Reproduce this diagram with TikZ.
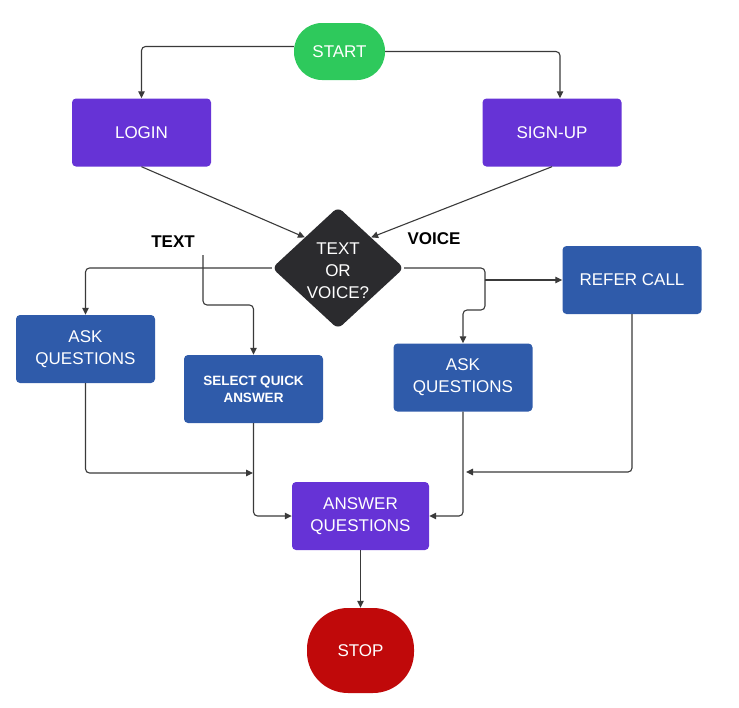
\documentclass[tikz,border=0pt]{standalone}
\usepackage{fontspec}
\setmainfont{Liberation Sans}
\usetikzlibrary{shapes.geometric,arrows.meta}
\definecolor{cpurple}{HTML}{6633D6}
\definecolor{cblue}{HTML}{2F5BAA}
\definecolor{cgreen}{HTML}{2EC95C}
\definecolor{cred}{HTML}{C0090A}
\definecolor{cdark}{HTML}{2B2B2E}
\definecolor{cline}{HTML}{3A3A3A}
\begin{document}
\begin{tikzpicture}[x=1pt,y=-1pt,
  box/.style={rectangle,rounded corners=4pt,minimum width=139pt,minimum height=68pt,
    text=white,font=\fontsize{17}{22}\selectfont,align=center,inner sep=0pt},
  pbox/.style={box,fill=cpurple},
  bbox/.style={box,fill=cblue},
  term/.style={rectangle,text=white,font=\fontsize{17}{21}\selectfont,align=center,inner sep=0pt},
  dia/.style={diamond,aspect=1.08,fill=cdark,minimum width=132pt,minimum height=122pt,
    inner sep=0pt,rounded corners=6pt,text=white,align=center,font=\fontsize{17}{22}\selectfont},
  lbl/.style={font=\bfseries\fontsize{17}{21}\selectfont,text=black,inner sep=0pt},
  arr/.style={draw=cline,line width=1.1pt,-{Triangle[length=7pt,width=6.5pt]},rounded corners=4pt},
  ln/.style={draw=cline,line width=1.1pt,rounded corners=4pt}]
\useasboundingbox (0,0) rectangle (739,707);

% nodes
\node[term,fill=cgreen,rounded corners=28pt,minimum width=91pt,minimum height=57pt] (start) at (339.5,51.5) {START};
\node[pbox] (login) at (141.5,132.5) {LOGIN};
\node[pbox] (signup) at (552,132.5) {SIGN-UP};
\node[dia] (dec) at (338,268) {};
\node[text=white,align=center,font=\fontsize{17}{22}\selectfont,inner sep=0pt] (dectxt) at (338,271) {TEXT\\OR\\VOICE?};
\node[lbl] (ltext) at (173,242) {TEXT};
\node[lbl] (lvoice) at (434,239) {VOICE};
\node[bbox] (askl) at (85.5,349) {ASK\\QUESTIONS};
\node[bbox,font=\bfseries\fontsize{13.5}{17}\selectfont] (sel) at (253.5,389) {SELECT QUICK\\ANSWER};
\node[bbox] (askr) at (463,377.5) {ASK\\QUESTIONS};
\node[bbox] (refer) at (632,280) {REFER CALL};
\node[pbox,minimum width=137pt] (ans) at (360.5,516) {ANSWER\\QUESTIONS};
\node[term,fill=cred,rounded corners=41pt,minimum width=107pt,minimum height=85pt] (stop) at (360.5,650.5) {STOP};

% helper coordinates
\coordinate (ts) at (203,255);
\coordinate (tsb) at (203,305);
\coordinate (vb) at (485,280);
\coordinate (vb2) at (485,310);
\coordinate (j1) at (253,473);
\coordinate (j2) at (466,472);

% connectors
\draw[arr] ([yshift=5pt]start.west) -| (login.north);
\draw[arr] (start.east) -| ([xshift=8pt]signup.north);
\draw[arr] (login.south) -- (dec.north west);
\draw[arr] (signup.south) -- (dec.north east);
\draw[arr] (dec.west) -| (askl.north);
\draw[arr] (ts) -- (tsb) -| (sel.north);
\draw[ln] (dec.east) -| (vb);
\draw[arr] (vb) -- (refer.west);
\draw[arr] (vb) -- (vb2) -| (askr.north);
\draw[arr] (askl.south) |- (j1);
\draw[arr] (sel.south) |- (ans.west);
\draw[arr] (refer.south) |- (j2);
\draw[arr] (askr.south) |- (ans.east);
\draw[arr] (ans.south) -- (stop.north);
\end{tikzpicture}
\end{document}
